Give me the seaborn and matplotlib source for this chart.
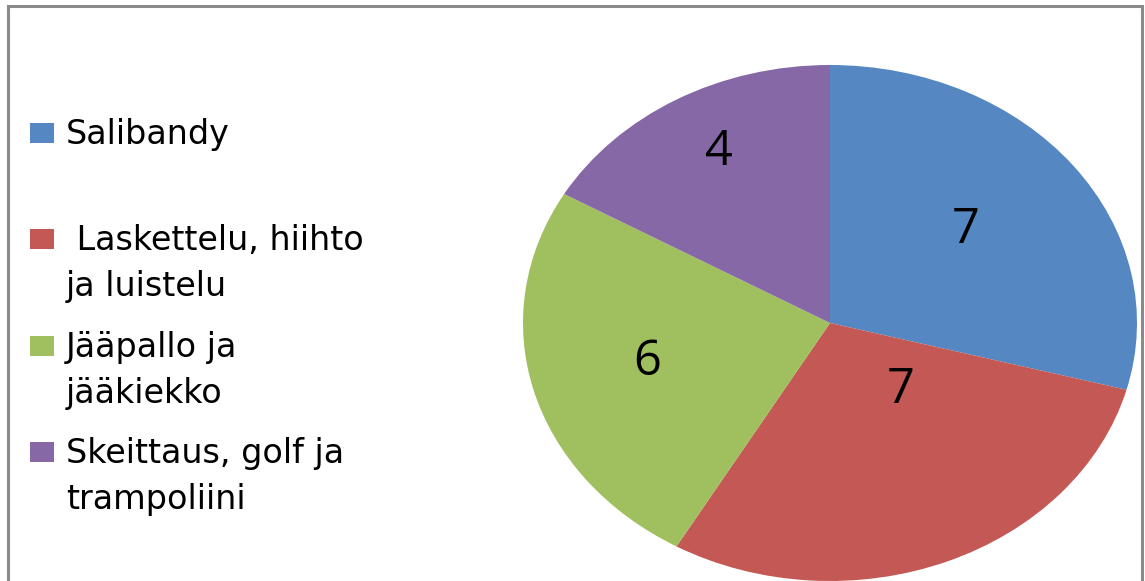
import numpy as np
import matplotlib
matplotlib.use("Agg")
import matplotlib.pyplot as plt
import seaborn as sns
from matplotlib.patches import Rectangle

sns.set_theme(style="white")
plt.rcParams['font.family'] = ['Open Sans', 'DejaVu Sans']

categories = ["Salibandy", " Laskettelu, hiihto\nja luistelu", "Jääpallo ja\njääkiekko",
              "Skeittaus, golf ja\ntrampoliini"]
values = [7, 7, 6, 4]
colors = ["#5588C2", "#C35854", "#A0BF5F", "#8768A6"]

W, H = 1145, 581
fig = plt.figure(figsize=(W / 100, H / 100), dpi=100)
fig.patch.set_facecolor("white")

# frame
fig.add_artist(Rectangle((8 / W, -0.1), (1142 - 8) / W, 1.1 - 6 / H, transform=fig.transFigure,
                         fill=False, edgecolor="#8a8a8a", linewidth=2.2))

ax = fig.add_axes([523 / W, (H - 581) / H, 614 / W, (581 - 65) / H])
wedges, _ = ax.pie(values, colors=colors, startangle=90, counterclock=False,
                   wedgeprops=dict(linewidth=0))
ax.set_aspect("auto")
ax.set_xlim(-1, 1)
ax.set_ylim(-1, 1)
ax.axis("off")

# value labels (position of each label inside its wedge, axes data units)
label_pos = [(0.443, 0.310), (0.231, -0.310), (-0.596, -0.2016), (-0.362, 0.612)]
for v, (lx, ly) in zip(values, label_pos):
    ax.text(lx, ly, str(v), ha="center", va="baseline", fontsize=35, color="black",
            fontweight="medium")

# legend (manual)
marker_bottoms = [143, 249, 356, 462]
line_pitch = 46
for lab, col, base in zip(categories, colors, marker_bottoms):
    fig.add_artist(Rectangle((30 / W, 1 - base / H), 24 / W, 20 / H,
                             transform=fig.transFigure, facecolor=col, edgecolor="none"))
    for i, line in enumerate(lab.split("\n")):
        fig.text(66 / W, 1 - (base + 1 + i * line_pitch) / H, line, ha="left",
                 va="baseline", fontsize=24, color="black", family="DejaVu Sans")

fig.savefig("out.png", dpi=100, facecolor="white")
